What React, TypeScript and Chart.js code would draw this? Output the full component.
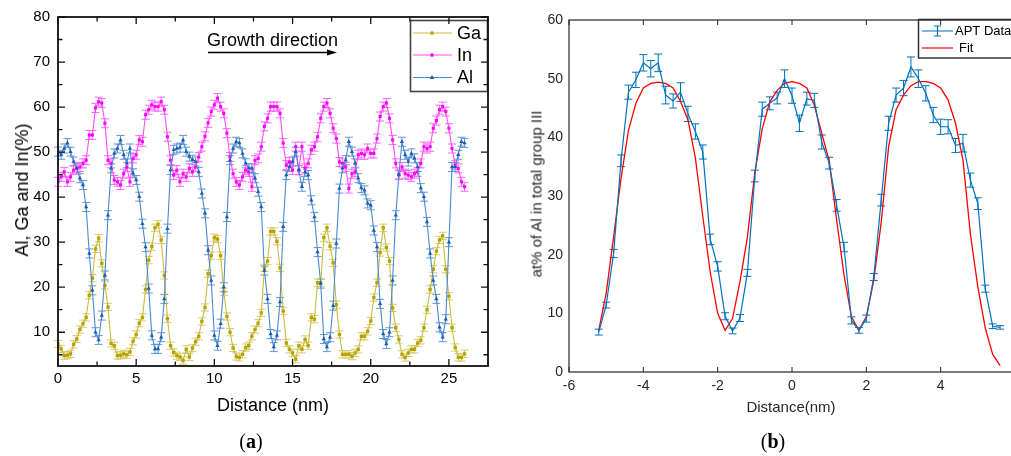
import React, { useEffect, useRef } from "react";
import { Chart, registerables } from "chart.js";

Chart.register(...registerables);

const FONT = '"Liberation Sans", Arial, Helvetica, sans-serif';
const SERIF = '"Liberation Serif", "Times New Roman", serif';

// ---------- Panel (a) data ----------
const DISTANCE = [
  0, 0.2, 0.4, 0.6, 0.8, 1, 1.2, 1.4, 1.6, 1.8,
  2, 2.2, 2.4, 2.6, 2.8, 3, 3.2, 3.4, 3.6, 3.8,
  4, 4.2, 4.4, 4.6, 4.8, 5, 5.2, 5.4, 5.6, 5.8,
  6, 6.2, 6.4, 6.6, 6.8, 7, 7.2, 7.4, 7.6, 7.8,
  8, 8.2, 8.4, 8.6, 8.8, 9, 9.2, 9.4, 9.6, 9.8,
  10, 10.2, 10.4, 10.6, 10.8, 11, 11.2, 11.4, 11.6, 11.8,
  12, 12.2, 12.4, 12.6, 12.8, 13, 13.2, 13.4, 13.6, 13.8,
  14, 14.2, 14.4, 14.6, 14.8, 15, 15.2, 15.4, 15.6, 15.8,
  16, 16.2, 16.4, 16.6, 16.8, 17, 17.2, 17.4, 17.6, 17.8,
  18, 18.2, 18.4, 18.6, 18.8, 19, 19.2, 19.4, 19.6, 19.8,
  20, 20.2, 20.4, 20.6, 20.8, 21, 21.2, 21.4, 21.6, 21.8,
  22, 22.2, 22.4, 22.6, 22.8, 23, 23.2, 23.4, 23.6, 23.8,
  24, 24.2, 24.4, 24.6, 24.8, 25, 25.2, 25.4, 25.6, 25.8,
  26,
];

const GA = [
  7.4, 6.3, 4.8, 4.9, 5.2, 7.3, 8.5, 10.6, 11.9, 13.3,
  18.2, 22.0, 28.5, 30.9, 25.3, 20.4, 15.6, 7.5, 7.0, 4.8,
  4.9, 5.2, 5.0, 5.6, 8.0, 9.5, 12.0, 13.3, 19.5, 26.0,
  29.0, 33.2, 34.0, 30.5, 22.6, 13.0, 7.0, 5.5, 4.8, 4.5,
  3.7, 6.2, 4.5, 6.5, 7.9, 9.1, 12.4, 15.5, 23.0, 27.0,
  31.0, 30.7, 27.0, 19.0, 13.5, 10.0, 6.5, 4.6, 4.4, 5.1,
  6.6, 7.0, 9.1, 10.6, 12.0, 14.3, 24.3, 25.8, 32.4, 32.4,
  30.2, 24.3, 14.7, 7.6, 6.2, 5.4, 4.0, 7.0, 6.2, 8.4,
  7.0, 13.3, 12.9, 21.0, 21.0, 31.0, 33.2, 29.1, 25.4, 16.1,
  9.5, 5.1, 5.1, 5.1, 4.7, 5.4, 6.2, 9.1, 9.1, 10.2,
  12.5, 17.7, 21.0, 27.7, 33.2, 28.8, 25.8, 15.4, 11.0, 8.4,
  5.1, 4.4, 5.4, 6.2, 6.2, 7.6, 8.2, 11.0, 15.0, 19.5,
  24.0, 28.0, 30.5, 31.4, 24.0, 18.0, 11.0, 6.6, 4.4, 4.4,
  5.2,
];

const IN = [
  43.4, 44.5, 45.6, 43.4, 44.5, 46.0, 46.4, 46.7, 47.5, 48.2,
  53.8, 53.8, 59.8, 61.2, 60.9, 56.4, 48.2, 47.5, 43.8, 43.4,
  42.7, 45.2, 46.7, 43.4, 48.6, 49.4, 52.7, 52.3, 58.3, 59.4,
  60.5, 60.1, 60.1, 61.2, 59.4, 53.4, 48.2, 44.9, 46.0, 43.4,
  45.2, 44.5, 46.4, 45.6, 46.7, 48.9, 51.2, 53.5, 56.5, 59.0,
  60.5, 62.0, 60.1, 58.6, 54.2, 48.9, 45.2, 43.4, 42.7, 44.5,
  46.0, 45.6, 42.3, 48.2, 48.6, 51.2, 55.7, 57.5, 60.1, 60.1,
  60.1, 58.6, 52.0, 47.1, 47.8, 46.0, 51.2, 46.0, 51.2, 46.4,
  47.5, 50.5, 51.2, 53.4, 57.5, 60.1, 60.9, 58.6, 55.3, 53.0,
  47.8, 47.5, 46.7, 41.9, 45.2, 45.6, 49.4, 49.7, 49.4, 50.8,
  49.7, 49.7, 53.0, 57.9, 60.1, 60.9, 57.5, 52.7, 47.5, 44.9,
  46.7, 45.2, 44.9, 44.5, 45.2, 45.6, 47.5, 51.2, 50.8, 51.2,
  55.3, 57.0, 59.4, 60.1, 59.0, 55.3, 50.8, 47.1, 46.4, 43.4,
  42.3,
];

const AL = [
  50.1, 49.4, 50.8, 52.0, 50.1, 47.9, 46.4, 44.2, 42.7, 37.8,
  27.5, 19.3, 10.0, 8.3, 13.7, 22.6, 36.0, 46.4, 49.7, 50.8,
  52.7, 49.4, 47.5, 50.8, 45.3, 43.8, 40.1, 34.1, 28.9, 19.7,
  9.3, 6.3, 6.3, 8.9, 17.4, 33.0, 46.0, 50.5, 50.8, 51.0,
  52.7, 50.1, 49.0, 48.3, 47.9, 45.6, 40.8, 36.4, 28.2, 21.5,
  9.3, 7.0, 11.9, 20.0, 35.6, 48.2, 50.8, 52.3, 52.0, 49.7,
  47.5, 46.4, 46.4, 44.2, 41.2, 37.8, 23.7, 17.4, 9.6, 6.7,
  9.3, 16.7, 33.4, 44.9, 46.7, 47.9, 50.1, 46.0, 42.3, 45.6,
  44.9, 39.3, 35.6, 27.8, 20.8, 8.5, 6.7, 8.9, 15.9, 29.7,
  41.9, 46.4, 48.2, 52.3, 50.1, 47.5, 44.2, 42.0, 41.5, 38.6,
  38.2, 32.6, 28.9, 16.3, 9.6, 7.4, 10.0, 21.5, 36.0, 45.0,
  52.3, 49.4, 47.9, 49.7, 48.6, 46.7, 42.0, 40.1, 34.5, 27.5,
  21.5, 17.4, 11.1, 8.9, 12.9, 30.0, 46.7, 46.7, 49.4, 52.3,
  52.0,
];

const GA_ERR = 0.8;
const IN_ERR = 1.0;
const AL_ERR = 1.0;

const A_X_TICKS = [0, 5, 10, 15, 20, 25];
const A_X_MINOR = [2.5, 7.5, 12.5, 17.5, 22.5, 27.5];
const A_Y_TICKS = [10, 20, 30, 40, 50, 60, 70, 80];
const A_Y_MINOR = [5, 15, 25, 35, 45, 55, 65, 75];

// ---------- Panel (b) data ----------
const APT_X = [
  -5.2, -5.0, -4.8, -4.6, -4.4, -4.2, -4.0, -3.8, -3.6, -3.4,
  -3.2, -3.0, -2.8, -2.6, -2.4, -2.2, -2.0, -1.8, -1.6, -1.4,
  -1.2, -1.0, -0.8, -0.6, -0.4, -0.2, 0.0, 0.2, 0.4, 0.6,
  0.8, 1.0, 1.2, 1.4, 1.6, 1.8, 2.0, 2.2, 2.4, 2.6,
  2.8, 3.0, 3.2, 3.4, 3.6, 3.8, 4.0, 4.2, 4.4, 4.6,
  4.8, 5.0, 5.2, 5.4, 5.6,
];

const APT = [
  6.8, 11.4, 20.2, 36.0, 47.7, 49.8, 52.7, 51.7, 52.7, 47.2,
  46.2, 47.7, 44.0, 41.0, 37.5, 22.6, 18.0, 9.5, 7.0, 9.2,
  16.9, 33.4, 44.8, 45.8, 46.7, 50.0, 47.1, 42.4, 46.6, 46.3,
  39.2, 35.6, 28.4, 21.3, 8.8, 7.1, 9.1, 16.2, 29.3, 42.4,
  47.2, 48.4, 52.0, 50.0, 47.5, 43.8, 41.8, 41.8, 38.6, 39.0,
  32.7, 28.7, 14.2, 7.8, 7.6,
];

const APT_ERR = [
  0.5, 0.5, 0.7, 1.0, 1.2, 1.3, 1.4, 1.4, 1.5, 1.5,
  1.2, 1.6, 1.3, 1.3, 1.2, 0.9, 0.8, 0.6, 0.5, 0.6,
  0.6, 1.0, 1.2, 1.1, 1.0, 1.5, 1.3, 1.4, 1.1, 1.2,
  1.2, 1.0, 1.0, 0.8, 0.6, 0.5, 0.6, 0.6, 1.0, 1.2,
  1.2, 1.3, 1.7, 1.5, 1.3, 1.3, 1.3, 1.2, 1.2, 1.5,
  1.2, 1.0, 0.6, 0.4, 0.3,
];

const FIT = [
  7.1, 13.4, 23.0, 33.0, 41.2, 45.8, 48.4, 49.2, 49.4, 49.2,
  48.4, 46.1, 43.0, 36.5, 26.5, 17.0, 10.0, 7.1, 9.1, 15.4,
  23.0, 34.0, 41.5, 46.0, 48.0, 49.2, 49.5, 49.2, 48.4, 45.5,
  40.7, 36.0, 26.0, 16.5, 9.4, 7.1, 9.4, 15.6, 25.5, 38.4,
  44.7, 47.2, 48.8, 49.5, 49.5, 49.2, 48.4, 46.4, 42.4, 36.1,
  23.5, 14.5, 7.5, 3.0, 1.1,
];

const B_X_TICKS = [-6, -4, -2, 0, 2, 4];
const B_X_MARKS = [-6, -4, -2, 0, 2, 4, 6];
const B_Y_TICKS = [0, 10, 20, 30, 40, 50, 60];

// ---------- colours ----------
const GA_MARK = "#b9a300";
const GA_LINE = "#cbbb3a";
const GA_ERRC = "#d6ca6a";
const IN_MARK = "#ff00ff";
const IN_LINE = "#ff4dff";
const IN_ERRC = "#ff66ff";
const AL_MARK = "#1b5cad";
const AL_LINE = "#4b8ad0";
const AL_ERRC = "#5f98d6";
const APT_COLOR = "#0072bd";
const FIT_COLOR = "#ff0000";

const pts = (xs: number[], ys: number[]) => xs.map((x, i) => ({ x, y: ys[i] }));

const errorBarPlugin = {
  id: "errorBars",
  beforeDatasetsDraw(chart: any) {
    const { ctx } = chart;
    const yScale = chart.scales.y;
    chart.data.datasets.forEach((ds: any, di: number) => {
      const eb = ds.errorBars;
      if (!eb) return;
      const meta = chart.getDatasetMeta(di);
      ctx.save();
      ctx.strokeStyle = eb.color;
      ctx.lineWidth = eb.width;
      ctx.beginPath();
      meta.data.forEach((pt: any, i: number) => {
        const raw = ds.data[i];
        const e = Array.isArray(eb.values) ? eb.values[i] : eb.values;
        const x = pt.x;
        const yT = yScale.getPixelForValue(raw.y + e);
        const yB = yScale.getPixelForValue(raw.y - e);
        const h = eb.cap / 2;
        ctx.moveTo(x, yT);
        ctx.lineTo(x, yB);
        ctx.moveTo(x - h, yT);
        ctx.lineTo(x + h, yT);
        ctx.moveTo(x - h, yB);
        ctx.lineTo(x + h, yB);
      });
      ctx.stroke();
      ctx.restore();
    });
  },
};

function framePlugin(cfg: any) {
  return {
    id: "frame",
    afterDraw(chart: any) {
      const { ctx, chartArea: ca } = chart;
      const xs = chart.scales.x;
      const ys = chart.scales.y;
      ctx.save();
      ctx.strokeStyle = cfg.color;
      ctx.lineWidth = cfg.tickWidth;
      ctx.beginPath();
      const xt = (vals: number[], len: number) =>
        vals.forEach((v) => {
          const p = xs.getPixelForValue(v);
          ctx.moveTo(p, ca.bottom);
          ctx.lineTo(p, ca.bottom - len);
          ctx.moveTo(p, ca.top);
          ctx.lineTo(p, ca.top + len);
        });
      const yt = (vals: number[], len: number) =>
        vals.forEach((v) => {
          const p = ys.getPixelForValue(v);
          ctx.moveTo(ca.left, p);
          ctx.lineTo(ca.left + len, p);
          ctx.moveTo(ca.right, p);
          ctx.lineTo(ca.right - len, p);
        });
      xt(cfg.xMajor, cfg.majorLen);
      xt(cfg.xMinor, cfg.minorLen);
      yt(cfg.yMajor, cfg.majorLen);
      yt(cfg.yMinor, cfg.minorLen);
      ctx.stroke();
      ctx.lineWidth = cfg.lineWidth;
      ctx.strokeRect(ca.left, ca.top, ca.right - ca.left, ca.bottom - ca.top);
      ctx.restore();
    },
  };
}

function decoPlugin(draw: (ctx: CanvasRenderingContext2D) => void) {
  return {
    id: "deco",
    afterDatasetsDraw(chart: any) {
      const ctx = chart.ctx;
      ctx.save();
      draw(ctx);
      ctx.restore();
    },
  };
}

function drawMarker(ctx: CanvasRenderingContext2D, kind: string, x: number, y: number, color: string) {
  ctx.fillStyle = color;
  if (kind === "rect") {
    ctx.fillRect(x - 1.6, y - 1.6, 3.2, 3.2);
  } else {
    ctx.beginPath();
    ctx.moveTo(x, y - 2.6);
    ctx.lineTo(x + 2.3, y + 1.4);
    ctx.lineTo(x - 2.3, y + 1.4);
    ctx.closePath();
    ctx.fill();
  }
}

const drawLeftDeco = (ctx: CanvasRenderingContext2D) => {
  ctx.fillStyle = "#000";
  ctx.font = `18px ${FONT}`;
  ctx.textAlign = "left";
  ctx.textBaseline = "alphabetic";
  ctx.fillText("Growth direction", 207, 46);
  ctx.strokeStyle = "#000";
  ctx.lineWidth = 1.3;
  ctx.beginPath();
  ctx.moveTo(208, 52.5);
  ctx.lineTo(330, 52.5);
  ctx.stroke();
  ctx.beginPath();
  ctx.moveTo(337, 52.5);
  ctx.lineTo(327, 49.5);
  ctx.lineTo(327, 55.5);
  ctx.closePath();
  ctx.fill();

  // legend
  ctx.fillStyle = "#fff";
  ctx.fillRect(410, 20, 78, 72);
  ctx.strokeStyle = "#444";
  ctx.lineWidth = 1.6;
  ctx.strokeRect(410.5, 20.5, 77, 71);
  const items = [
    { t: "Ga", y: 33, line: GA_LINE, mark: GA_MARK, kind: "rect" },
    { t: "In", y: 55, line: IN_LINE, mark: IN_MARK, kind: "rect" },
    { t: "Al", y: 77.5, line: AL_LINE, mark: AL_MARK, kind: "tri" },
  ];
  ctx.textBaseline = "middle";
  ctx.font = `18px ${FONT}`;
  items.forEach((it) => {
    ctx.strokeStyle = it.line;
    ctx.lineWidth = 1.2;
    ctx.beginPath();
    ctx.moveTo(413, it.y);
    ctx.lineTo(452, it.y);
    ctx.stroke();
    drawMarker(ctx, it.kind, 432, it.y, it.mark);
    ctx.fillStyle = "#000";
    ctx.fillText(it.t, 457, it.y + 1);
  });
};

const drawRightDeco = (ctx: CanvasRenderingContext2D) => {
  const ox = 500;
  ctx.fillStyle = "#fff";
  ctx.fillRect(918 - ox, 19.5, 140, 38.5);
  ctx.strokeStyle = "#333";
  ctx.lineWidth = 1.5;
  ctx.strokeRect(918.5 - ox, 19.5, 140, 38.5);
  // APT Data
  ctx.strokeStyle = APT_COLOR;
  ctx.lineWidth = 1.2;
  ctx.beginPath();
  ctx.moveTo(922 - ox, 31);
  ctx.lineTo(953 - ox, 31);
  ctx.moveTo(937.5 - ox, 26);
  ctx.lineTo(937.5 - ox, 36);
  ctx.moveTo(934 - ox, 26);
  ctx.lineTo(941 - ox, 26);
  ctx.moveTo(934 - ox, 36);
  ctx.lineTo(941 - ox, 36);
  ctx.stroke();
  // Fit
  ctx.strokeStyle = FIT_COLOR;
  ctx.beginPath();
  ctx.moveTo(922 - ox, 48);
  ctx.lineTo(953 - ox, 48);
  ctx.stroke();
  ctx.fillStyle = "#000";
  ctx.font = `13px ${FONT}`;
  ctx.textAlign = "left";
  ctx.textBaseline = "middle";
  ctx.fillText("APT Data", 955 - ox, 31);
  ctx.fillText("Fit", 959 - ox, 48);
};

function leftConfig(): any {
  return {
    type: "line",
    data: {
      datasets: [
        {
          label: "Al",
          data: pts(DISTANCE, AL),
          borderColor: AL_LINE,
          backgroundColor: AL_MARK,
          pointBackgroundColor: AL_MARK,
          pointBorderWidth: 0,
          pointStyle: "triangle",
          pointRadius: 2.5,
          borderWidth: 1.1,
          tension: 0,
          errorBars: { values: AL_ERR, color: AL_ERRC, cap: 8, width: 1 },
        },
        {
          label: "In",
          data: pts(DISTANCE, IN),
          borderColor: IN_LINE,
          backgroundColor: IN_MARK,
          pointBackgroundColor: IN_MARK,
          pointBorderWidth: 0,
          pointStyle: "rect",
          pointRadius: 2.2,
          borderWidth: 1.1,
          tension: 0,
          errorBars: { values: IN_ERR, color: IN_ERRC, cap: 8, width: 1 },
        },
        {
          label: "Ga",
          data: pts(DISTANCE, GA),
          borderColor: GA_LINE,
          backgroundColor: GA_MARK,
          pointBackgroundColor: GA_MARK,
          pointBorderWidth: 0,
          pointStyle: "rect",
          pointRadius: 2.4,
          borderWidth: 1.1,
          tension: 0,
          errorBars: { values: GA_ERR, color: GA_ERRC, cap: 8, width: 1 },
        },
      ],
    },
    options: {
      responsive: false,
      animation: false,
      events: [],
      layout: { padding: { left: 0, right: 12, top: 17, bottom: 0 } },
      plugins: { legend: { display: false }, tooltip: { enabled: false } },
      scales: {
        x: {
          type: "linear",
          min: 0,
          max: 27.5,
          afterBuildTicks: (s: any) => {
            s.ticks = A_X_TICKS.map((v) => ({ value: v }));
          },
          afterFit: (s: any) => {
            s.height = 90;
          },
          grid: { display: false, drawTicks: false },
          border: { display: false },
          ticks: { padding: 4, color: "#000", maxRotation: 0, font: { size: 15, family: FONT } },
        },
        y: {
          type: "linear",
          min: 2.5,
          max: 80,
          afterBuildTicks: (s: any) => {
            s.ticks = A_Y_TICKS.map((v) => ({ value: v }));
          },
          afterFit: (s: any) => {
            s.width = 58;
          },
          grid: { display: false, drawTicks: false },
          border: { display: false },
          ticks: { padding: 8, color: "#000", font: { size: 15, family: FONT } },
        },
      },
    },
    plugins: [
      errorBarPlugin,
      decoPlugin(drawLeftDeco),
      framePlugin({
        color: "#111",
        lineWidth: 1.8,
        tickWidth: 1.3,
        majorLen: 7,
        minorLen: 4.5,
        xMajor: A_X_TICKS,
        xMinor: A_X_MINOR,
        yMajor: A_Y_TICKS,
        yMinor: A_Y_MINOR,
      }),
    ],
  };
}

function rightConfig(): any {
  return {
    type: "line",
    data: {
      datasets: [
        {
          label: "APT Data",
          data: pts(APT_X, APT),
          borderColor: APT_COLOR,
          borderWidth: 1.2,
          pointRadius: 0,
          tension: 0,
          errorBars: { values: APT_ERR, color: APT_COLOR, cap: 8, width: 1 },
        },
        {
          label: "Fit",
          data: pts(APT_X, FIT),
          borderColor: FIT_COLOR,
          borderWidth: 1.3,
          pointRadius: 0,
          tension: 0,
        },
      ],
    },
    options: {
      responsive: false,
      animation: false,
      events: [],
      layout: { padding: { left: 0, right: 15, top: 20, bottom: 0 } },
      plugins: { legend: { display: false }, tooltip: { enabled: false } },
      scales: {
        x: {
          type: "linear",
          min: -6,
          max: 6,
          afterBuildTicks: (s: any) => {
            s.ticks = B_X_TICKS.map((v) => ({ value: v }));
          },
          afterFit: (s: any) => {
            s.height = 84;
          },
          grid: { display: false, drawTicks: false },
          border: { display: false },
          ticks: { padding: 6, color: "#262626", maxRotation: 0, font: { size: 14, family: FONT } },
        },
        y: {
          type: "linear",
          min: 0,
          max: 60,
          afterBuildTicks: (s: any) => {
            s.ticks = B_Y_TICKS.map((v) => ({ value: v }));
          },
          afterFit: (s: any) => {
            s.width = 69;
          },
          grid: { display: false, drawTicks: false },
          border: { display: false },
          ticks: { padding: 6, color: "#262626", font: { size: 14, family: FONT } },
        },
      },
    },
    plugins: [
      errorBarPlugin,
      decoPlugin(drawRightDeco),
      framePlugin({
        color: "#262626",
        lineWidth: 1.2,
        tickWidth: 1,
        majorLen: 5,
        minorLen: 0,
        xMajor: B_X_MARKS,
        xMinor: [],
        yMajor: [],
        yMinor: [],
      }),
    ],
  };
}

function Label(props: { cx: number; cy: number; font: string; color?: string; rotate?: boolean; children: any }) {
  const { cx, cy, font, color, rotate, children } = props;
  return (
    <div
      style={{
        position: "absolute",
        left: cx,
        top: cy,
        transform: `translate(-50%, -50%)${rotate ? " rotate(-90deg)" : ""}`,
        font,
        color: color || "#000",
        whiteSpace: "nowrap",
        lineHeight: 1,
      }}
    >
      {children}
    </div>
  );
}

export default function App() {
  const leftRef = useRef<HTMLCanvasElement>(null);
  const rightRef = useRef<HTMLCanvasElement>(null);

  useEffect(() => {
    const c1 = new Chart(leftRef.current as HTMLCanvasElement, leftConfig());
    const c2 = new Chart(rightRef.current as HTMLCanvasElement, rightConfig());
    return () => {
      c1.destroy();
      c2.destroy();
    };
  }, []);

  return (
    <div
      style={{
        position: "fixed",
        left: 0,
        top: 0,
        width: 1011,
        height: 456,
        overflow: "hidden",
        background: "#fff",
      }}
    >
      <canvas ref={leftRef} width={500} height={456} style={{ position: "absolute", left: 0, top: 0 }} />
      <canvas ref={rightRef} width={530} height={456} style={{ position: "absolute", left: 500, top: 0 }} />
      <Label cx={22} cy={190} font={`18px ${FONT}`} rotate>
        Al, Ga and In(%)
      </Label>
      <Label cx={273} cy={405} font={`18px ${FONT}`}>
        Distance (nm)
      </Label>
      <Label cx={251} cy={441} font={`20px ${SERIF}`}>
        (<b>a</b>)
      </Label>
      <Label cx={536} cy={194} font={`15px ${FONT}`} color="#262626" rotate>
        at% of Al in total group III
      </Label>
      <Label cx={791} cy={406} font={`15px ${FONT}`} color="#262626">
        Distance(nm)
      </Label>
      <Label cx={773} cy={441} font={`20px ${SERIF}`}>
        (<b>b</b>)
      </Label>
    </div>
  );
}
